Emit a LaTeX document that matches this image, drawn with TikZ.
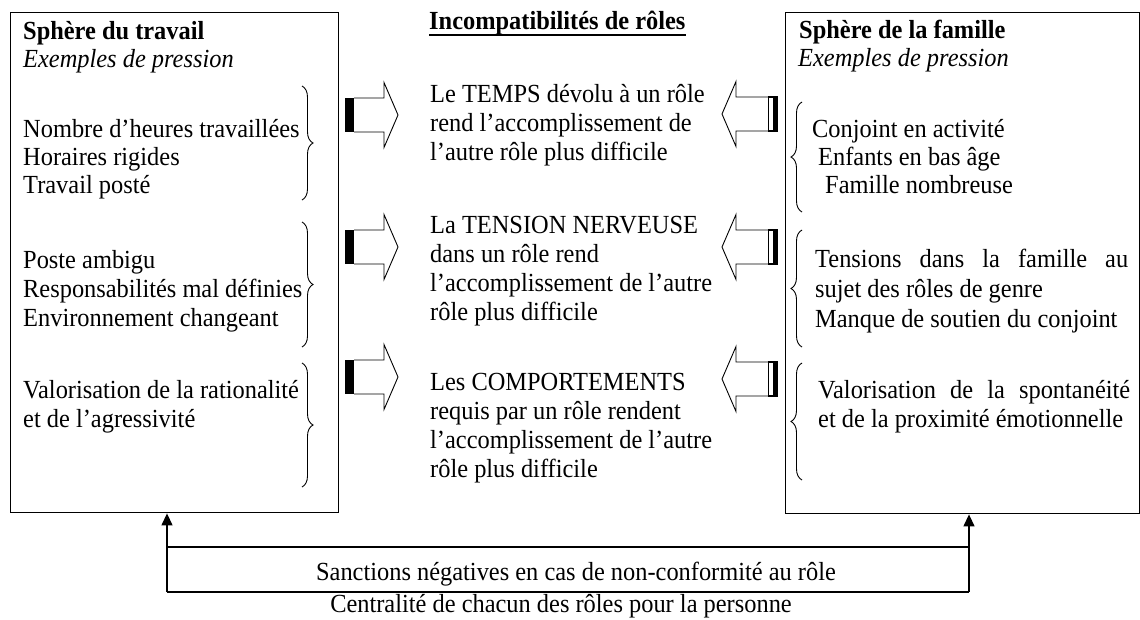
\documentclass[tikz,border=0pt]{standalone}
\usepackage{fontspec}
\setmainfont{Liberation Serif}[FakeStretch=0.935]
\usetikzlibrary{decorations.pathreplacing,arrows.meta}
\newcommand{\fsz}{\fontsize{26.1}{30}\selectfont}
\begin{document}
\begin{tikzpicture}[x=1pt,y=-1pt,
  txt/.style={anchor=base west,inner sep=0pt,font=\fsz},
  ctxt/.style={anchor=base,inner sep=0pt,font=\fsz},
  sphere/.style={draw,line width=1.4pt,inner sep=0pt,anchor=north west},
  brc/.style={decorate,decoration={brace,amplitude=11pt},line width=0.9pt},
  arrowline/.style={line width=0.9pt,line join=miter},
  link/.style={line width=1.3pt},
  linkarrow/.style={line width=1.3pt,-{Triangle[length=12pt,width=11pt]}}]
\useasboundingbox (0,0) rectangle (1140,619);

% boxes
\node[sphere,minimum width=328pt,minimum height=500pt] (work) at (10,12) {};
\node[sphere,minimum width=354pt,minimum height=501pt] (fam) at (785,12) {};

% title
\node[txt,font=\fsz\bfseries] (title) at (429,29) {Incompatibilités de rôles};
\draw[line width=2.3pt] ([yshift=-6pt]title.base west) -- ([yshift=-6pt]title.base east);

% work sphere texts
\node[txt,font=\fsz\bfseries] (wh) at (23,39) {Sphère du travail};
\node[txt,font=\fsz\itshape] (wex) at (23,67) {Exemples de pression};
\node[txt] (w1) at (23,137) {Nombre d’heures travaillées};
\node[txt] (w2) at (23,165) {Horaires rigides};
\node[txt] (w3) at (23,193) {Travail posté};
\node[txt] (w4) at (23,268) {Poste ambigu};
\node[txt] (w5) at (23,297) {Responsabilités mal définies};
\node[txt] (w6) at (23,326) {Environnement changeant};
\node[txt] (w7) at (23,398) {Valorisation de la rationalité};
\node[txt] (w8) at (23,427) {et de l’agressivité};

\draw[brc] (302,86) -- (302,200);
\draw[brc] (302,222) -- (302,347);
\draw[brc] (302,363) -- (302,487);

% family sphere texts
\node[txt,font=\fsz\bfseries] (fh) at (799,38) {Sphère de la famille};
\node[txt,font=\fsz\itshape] (fex) at (798,66) {Exemples de pression};
\node[txt] (f1) at (812,137) {Conjoint en activité};
\node[txt] (f2) at (818,165) {Enfants en bas âge};
\node[txt] (f3) at (825,193) {Famille nombreuse};
\node[txt] (f4) at (815,267) {\makebox[313pt][s]{Tensions dans la famille au}};
\node[txt] (f5) at (815,297) {sujet des rôles de genre};
\node[txt] (f6) at (815,327) {Manque de soutien du conjoint};
\node[txt] (f7) at (818,398) {\makebox[312pt][s]{Valorisation de la spontanéité}};
\node[txt] (f8) at (818,427) {et de la proximité émotionnelle};

\draw[brc] (802,212) -- (802,102);
\draw[brc] (802,347) -- (802,230);
\draw[brc] (802,480) -- (802,363);

% centre texts
\node[txt] (c1) at (430,102) {Le TEMPS dévolu à un rôle};
\node[txt] (c2) at (430,131) {rend l’accomplissement de};
\node[txt] (c3) at (430,160) {l’autre rôle plus difficile};
\node[txt] (c4) at (430,233) {La TENSION NERVEUSE};
\node[txt] (c5) at (430,262) {dans un rôle rend};
\node[txt] (c6) at (430,291) {l’accomplissement de l’autre};
\node[txt] (c7) at (430,320) {rôle plus difficile};
\node[txt] (c8) at (430,390) {Les COMPORTEMENTS};
\node[txt] (c9) at (430,419) {requis par un rôle rendent};
\node[txt] (c10) at (430,448) {l’accomplissement de l’autre};
\node[txt] (c11) at (430,477) {rôle plus difficile};

% left block arrows (pointing right)
\foreach \cy in {115,247,377}{
  \fill (345,\cy-17) rectangle (354,\cy+17);
  \draw[arrowline] (354,\cy-17) -- (384,\cy-17) -- (384,\cy-32.5) -- (398,\cy)
     -- (384,\cy+32.5) -- (384,\cy+17) -- (354,\cy+17);
}
% right block arrows (pointing left)
\foreach \cy in {114,247,379}{
  \draw[arrowline] (768.5,\cy-17) -- (736,\cy-17) -- (736,\cy-32.5) -- (722,\cy)
     -- (736,\cy+32.5) -- (736,\cy+17) -- (768.5,\cy+17);
  \draw[line width=1.1pt] (768.5,\cy-17) rectangle (777.5,\cy+17);
  \fill (773,\cy-17) rectangle (778,\cy+17);
}

% bottom links
\coordinate (bl) at (167,592);
\coordinate (br) at (969,592);
\coordinate (ml) at (167,547);
\coordinate (mr) at (969,547);
\draw[link] (ml) -- (mr);
\draw[link] (bl) -- (br);
\draw[linkarrow] (bl) -- (bl |- work.south);
\draw[linkarrow] (br) -- (br |- fam.south);

\node[ctxt] (sanc) at (576,580) {Sanctions négatives en cas de non-conformité au rôle};
\node[ctxt] (cent) at (561,612) {Centralité de chacun des rôles pour la personne};
\end{tikzpicture}
\end{document}
